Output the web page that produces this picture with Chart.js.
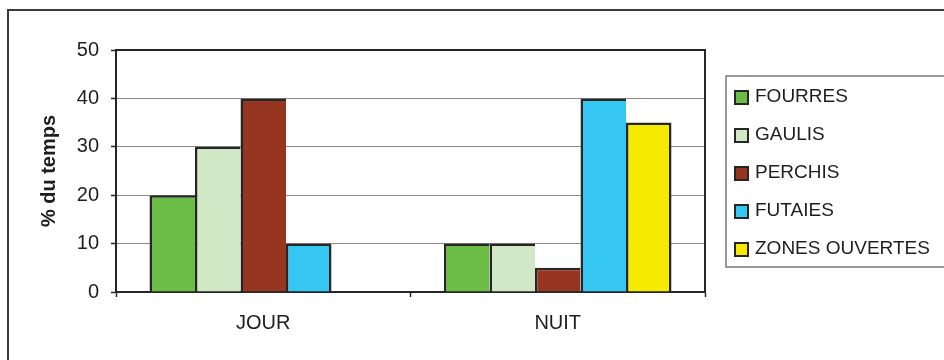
<!DOCTYPE html>
<html>
<head>
<meta charset="utf-8">
<script src="https://cdn.jsdelivr.net/npm/chart.js@4.4.1/dist/chart.umd.min.js"></script>
<style>
  html, body { margin: 0; padding: 0; background: #ffffff; }
  #wrap { width: 944px; height: 360px; }
</style>
</head>
<body>
<div id="wrap"><canvas id="c" width="944" height="360"></canvas></div>
<script>
// Periods of the day
const categories = ['JOUR', 'NUIT'];

// Habitat types and their colours
const habitats = ['FOURRES', 'GAULIS', 'PERCHIS', 'FUTAIES', 'ZONES OUVERTES'];
const habitatColors = ['#6cbd45', '#d1e8c6', '#963520', '#35c6f2', '#f5ea00'];

// % of time spent in each habitat (JOUR, NUIT)
const fourres = [20, 10];
const gaulis = [30, 10];
const perchis = [40, 5];
const futaies = [10, 40];
const zonesOuvertes = [null, 35];

// Y axis ticks
const yTicks = [0, 10, 20, 30, 40, 50];

const seriesValues = [fourres, gaulis, perchis, futaies, zonesOuvertes];

const FONT = '"Liberation Sans", Arial, sans-serif';
const TEXT = '#1e1e1e';
const DARK = '#262626';

// Adjacent bars share one divider: each bar draws its left edge, and the
// last bar of a group also closes its right edge.
function barBorder(ctx) {
  const ds = ctx.chart.data.datasets;
  const next = ds[ctx.datasetIndex + 1];
  const isLast = !next || next.data[ctx.dataIndex] == null;
  return { top: 2.5, left: 2.5, right: isLast ? 2.5 : 0, bottom: 0 };
}

const datasets = habitats.map((name, i) => ({
  label: name,
  data: seriesValues[i],
  backgroundColor: habitatColors[i],
  borderColor: DARK,
  borderWidth: barBorder,
  borderSkipped: false,
  inflateAmount: 0,
  categoryPercentage: 0.7725,
  barPercentage: 1.0
}));

// Outer frame, plot-area border and the boxed legend
const decorations = {
  id: 'decorations',
  beforeDraw(chart) {
    const c = chart.ctx;
    c.save();
    c.fillStyle = '#ffffff';
    c.fillRect(0, 0, chart.width, chart.height);
    c.strokeStyle = '#3c3c3c';
    c.lineWidth = 2;
    c.strokeRect(8, 10, 1200, 600);
    c.restore();
  },
  afterDraw(chart) {
    const c = chart.ctx;
    const a = chart.chartArea;
    c.save();
    // top and right edges of the plot area
    c.strokeStyle = DARK;
    c.lineWidth = 2;
    c.beginPath();
    c.moveTo(a.left, a.top);
    c.lineTo(a.right, a.top);
    c.lineTo(a.right, a.bottom);
    c.stroke();

    // legend box
    const lx = 726, ly = 76, rowH = 38;
    c.strokeStyle = '#7a7a7a';
    c.lineWidth = 1.5;
    c.strokeRect(lx, ly, 400, 191);

    c.font = '19px ' + FONT;
    c.textBaseline = 'middle';
    c.textAlign = 'left';
    chart.data.datasets.forEach((ds, i) => {
      const cy = ly + 21 + i * rowH;
      c.fillStyle = DARK;
      c.fillRect(734, cy - 7, 15, 15);
      c.fillStyle = ds.backgroundColor;
      c.fillRect(736, cy - 5, 11, 11);
      c.fillStyle = TEXT;
      c.fillText(ds.label, 755, cy);
    });
    c.restore();
  }
};

new Chart(document.getElementById('c'), {
  type: 'bar',
  data: { labels: categories, datasets },
  options: {
    responsive: false,
    animation: false,
    layout: { padding: { left: 0, top: 50, right: 239, bottom: 0 } },
    plugins: {
      legend: { display: false },
      tooltip: { enabled: false }
    },
    scales: {
      x: {
        grid: {
          offset: true,
          drawOnChartArea: false,
          drawTicks: true,
          tickLength: 5,
          tickColor: DARK,
          tickWidth: 1.5
        },
        border: { color: DARK, width: 2 },
        ticks: {
          color: TEXT,
          font: { family: FONT, size: 20 },
          padding: 14
        },
        afterFit(scale) { scale.height = 68; }
      },
      y: {
        min: yTicks[0],
        max: yTicks[yTicks.length - 1],
        afterBuildTicks(scale) { scale.ticks = yTicks.map(v => ({ value: v })); },
        grid: {
          color: '#8a8a8a',
          lineWidth: 1,
          tickLength: 5,
          tickColor: DARK,
          tickWidth: 1.5
        },
        border: { color: DARK, width: 2 },
        ticks: {
          color: TEXT,
          font: { family: FONT, size: 20 },
          padding: 12
        },
        title: {
          display: true,
          text: '% du temps',
          color: TEXT,
          font: { family: FONT, size: 20, weight: 'bold' },
          padding: { top: 37, bottom: 0 }
        },
        afterFit(scale) { scale.width = 116; }
      }
    }
  },
  plugins: [decorations]
});
</script>
</body>
</html>
